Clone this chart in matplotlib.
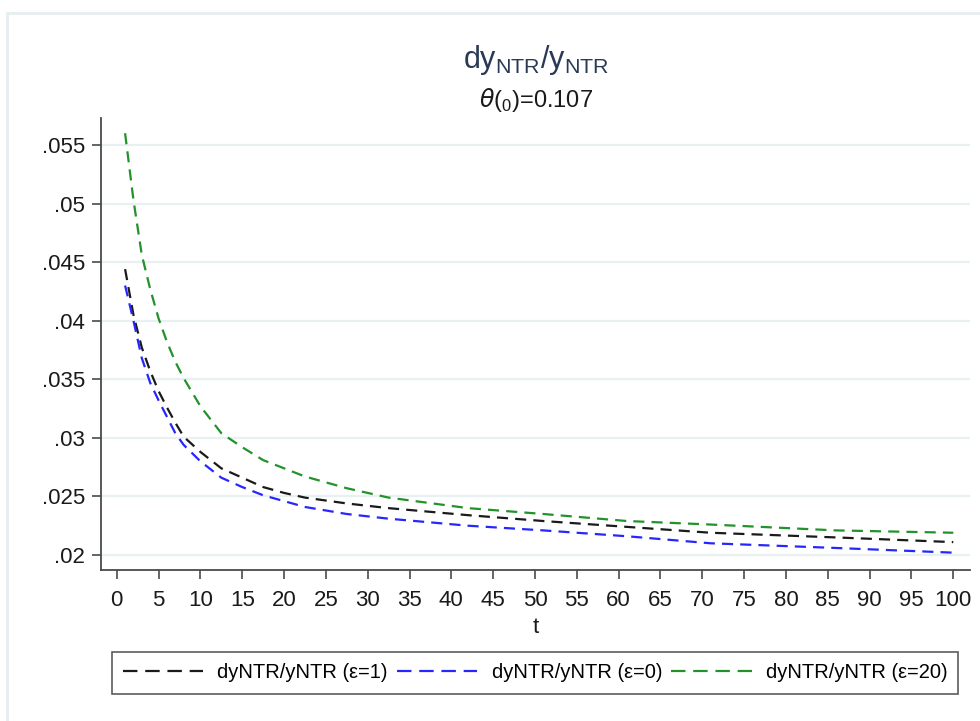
import matplotlib
matplotlib.use("Agg")
import matplotlib.pyplot as plt
from matplotlib.lines import Line2D

plt.rcParams['font.family'] = ['Liberation Sans', 'DejaVu Sans']
plt.rcParams['mathtext.fontset'] = 'dejavusans'

# Data
t = [1, 2, 3, 4, 5, 6, 7, 8, 10, 12.5, 15, 17.5, 20, 22.5, 27.5, 32.5, 42, 51, 61, 71, 86, 100]
eps1 = [0.0444, 0.0405, 0.0377, 0.0357, 0.0340, 0.0326, 0.0313, 0.0301, 0.0288, 0.0274, 0.0266,
        0.0258, 0.0253, 0.0249, 0.0244, 0.0240, 0.0234, 0.0229, 0.0224, 0.0219, 0.0215, 0.0211]
eps0 = [0.0430, 0.0400, 0.0368, 0.0347, 0.0332, 0.0318, 0.0304, 0.0294, 0.0280, 0.0266, 0.0258,
        0.0251, 0.0246, 0.0241, 0.0235, 0.0231, 0.0225, 0.0221, 0.0216, 0.0210, 0.0206, 0.0202]
eps20 = [0.0560, 0.0503, 0.0456, 0.0427, 0.0402, 0.0382, 0.0365, 0.0351, 0.0327, 0.0304, 0.0292,
         0.0281, 0.0274, 0.0267, 0.0257, 0.0249, 0.0240, 0.0235, 0.0229, 0.0226, 0.0221, 0.0219]

labels = ['dyNTR/yNTR (\u03b5=1)', 'dyNTR/yNTR (\u03b5=0)', 'dyNTR/yNTR (\u03b5=20)']
colors = ['#1a1a1a', '#2626ff', '#22922a']
yticks = [0.02, 0.025, 0.03, 0.035, 0.04, 0.045, 0.05, 0.055]
yticklabels = ['.02', '.025', '.03', '.035', '.04', '.045', '.05', '.055']
xticks = list(range(0, 101, 5))

fig = plt.figure(figsize=(9.8, 7.21), dpi=100)
fig.patch.set_facecolor('white')
ax = fig.add_axes([101/980, 1-570/721, (970-101)/980, (570-118)/721])

dash = (0, (5, 3.2))
for y, lab, c in zip([eps1, eps0, eps20], labels, colors):
    ax.plot(t, y, color=c, lw=1.6, linestyle=dash, label=lab)

ax.set_xlim(-1.88, 102.0)
ax.set_ylim(0.01872, 0.0573)
ax.set_xticks(xticks)
ax.set_xticklabels([str(v) for v in xticks])
ax.set_yticks(yticks)
ax.set_yticklabels(yticklabels)
ax.yaxis.grid(True, color='#e8f0f2', lw=1.6)
ax.set_axisbelow(True)
for s in ['top', 'right']:
    ax.spines[s].set_visible(False)
for s in ['left', 'bottom']:
    ax.spines[s].set_color('#4a4a4a')
    ax.spines[s].set_linewidth(1.3)
ax.tick_params(axis='both', direction='out', length=6.5, width=1.2, color='#4a4a4a',
               labelsize=16, labelcolor='#1a1a1a')
ax.tick_params(axis='x', pad=8)
ax.tick_params(axis='y', pad=5)
ax.set_xlabel('t', fontsize=16, labelpad=4, color='#1a1a1a')

fig.text(536/980, 1-60/721, r'dy$_{\mathregular{NTR}}$/y$_{\mathregular{NTR}}$', ha='center',
         va='center', fontsize=22, color='#2a3a55')
fig.text(536/980, 1-100/721, r'$\theta$($_{\mathregular{0}}$)=0.107', ha='center', va='center',
         fontsize=17, color='#1a1a1a')

leg = fig.legend(loc='center', bbox_to_anchor=(535/980, 1-673/721),
                 ncol=3, fontsize=14.5, handlelength=4.0, handletextpad=0.7,
                 columnspacing=0.45, borderpad=0.55, borderaxespad=0,
                 frameon=True, fancybox=False, shadow=False)
leg.get_frame().set_edgecolor('#333333')
leg.get_frame().set_linewidth(1.2)
for h in leg.legend_handles:
    h.set_linestyle((0, (6.5, 3.5)))

# outer graph-region frame
fig.add_artist(Line2D([7/980, 7/980], [0, 1-13/721], transform=fig.transFigure, color='#e6eef0', lw=2))
fig.add_artist(Line2D([7/980, 1], [1-13/721, 1-13/721], transform=fig.transFigure, color='#e6eef0', lw=2))

fig.savefig('out.png', dpi=100)
